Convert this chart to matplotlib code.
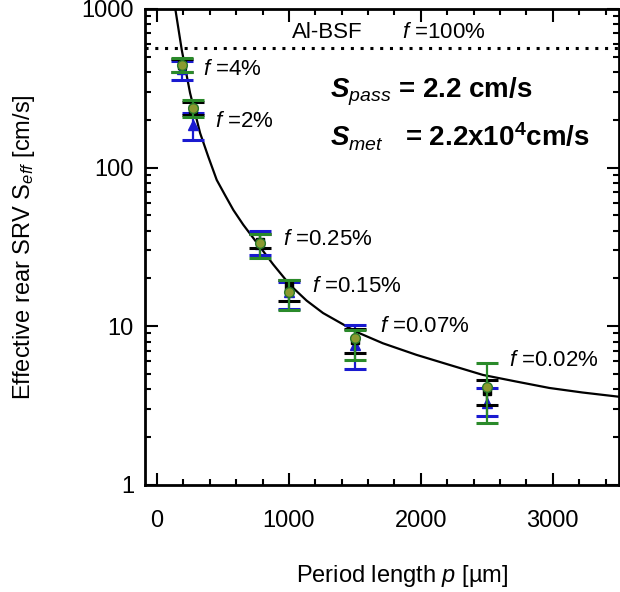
import numpy as np
import matplotlib
matplotlib.use('Agg')
import matplotlib.pyplot as plt
from matplotlib.ticker import MultipleLocator, LogLocator, FixedLocator, FixedFormatter, NullFormatter

plt.rcParams['font.family'] = ['Liberation Sans', 'DejaVu Sans']
plt.rcParams['mathtext.fontset'] = 'custom'
plt.rcParams['mathtext.rm'] = 'Liberation Sans'
plt.rcParams['mathtext.it'] = 'Liberation Sans:italic'
plt.rcParams['mathtext.bf'] = 'Liberation Sans:bold'
plt.rcParams['mathtext.bfit'] = 'Liberation Sans:italic:bold'

# measured points: period p [um], S_eff [cm/s] with lower/upper bounds
p = [190, 275, 780, 1000, 1500, 2500]
s_black = [440, 235, 34, 17.8, 8.2, 3.9]
lo_black = [400, 215, 31, 14.5, 6.8, 3.2]
hi_black = [480, 260, 38, 19.5, 9.6, 4.6]
s_blue = [420, 185, 33, 16.5, 7.6, 3.3]
lo_blue = [355, 150, 28, 12.8, 5.4, 2.7]
hi_blue = [470, 222, 40, 19.0, 10.2, 4.1]
s_green = [440, 236, 33.3, 16.5, 8.4, 4.16]
lo_green = [400, 208, 26.8, 12.7, 6.1, 2.47]
hi_green = [490, 268, 38, 19.6, 9.5, 5.85]
f_labels = ['4%', '2%', '0.25%', '0.15%', '0.07%', '0.02%']

# model curve
curve_p = [135, 188, 251, 327, 389, 453, 516, 579, 654, 781, 881, 1008, 1134, 1259,
           1512, 1713, 1966, 2218, 2470, 2722, 2974, 3225, 3504]
curve_s = [1050, 551, 295, 165, 117, 83.5, 67, 54, 43.6, 31.6, 24.5, 18.2, 14.5, 12.1,
           9.2, 7.8, 6.6, 5.7, 4.93, 4.48, 4.08, 3.82, 3.59]

s_albsf = 565

fig = plt.figure(figsize=(6.2, 5.92), dpi=100)
ax = fig.add_axes([0.234, 0.181, 0.764, 0.804])

ax.plot(curve_p, curve_s, color='black', lw=1.6, zorder=2)
ax.axhline(s_albsf, color='black', ls=(0, (1, 2.2)), lw=2.2, zorder=2)

def err(s, lo, hi):
    s = np.array(s); return [s - np.array(lo), np.array(hi) - s]

ax.errorbar(p, s_blue, yerr=err(s_blue, lo_blue, hi_blue), fmt='^', color='#1a1ad0',
            ms=7, capsize=8, capthick=2.2, elinewidth=1.6, zorder=3)
ax.errorbar(p, s_black, yerr=err(s_black, lo_black, hi_black), fmt='s', color='black',
            ms=6, capsize=8, capthick=2.2, elinewidth=1.6, zorder=4)
ax.errorbar(p, s_green, yerr=err(s_green, lo_green, hi_green), fmt='o', color='#2a8a2a',
            mfc='#8a9a30', mec='#2a7a2a', ms=7, capsize=8, capthick=2.2, elinewidth=1.6, zorder=5)

# f labels
lab_p = [349, 440, 953, 1175, 1690, 2670]
lab_s = [412, 194, 35, 17.7, 10, 6.1]
for xp, ys, lab in zip(lab_p, lab_s, f_labels):
    ax.text(xp, ys, r'$\mathit{f}$ =' + lab, fontsize=16, va='center', ha='left')

ax.text(1021, 705, 'Al-BSF', fontsize=16, va='center', ha='left')
ax.text(1855, 705, r'$\mathit{f}$ =100%', fontsize=16, va='center', ha='left')
ax.text(1310, 300, r'$\mathbfit{S}_{\mathit{pass}}$' + ' = 2.2 cm/s', fontsize=20,
        fontweight='bold', va='center', ha='left')
ax.text(1310, 156, r'$\mathbfit{S}_{\mathit{met}}$' + '   = 2.2x10$^{\mathbf{4}}$cm/s', fontsize=20,
        fontweight='bold', va='center', ha='left')

ax.set_yscale('log')
ax.set_ylim(1, 1000)
ax.set_xlim(-90, 3500)

ax.xaxis.set_major_locator(FixedLocator([0, 1000, 2000, 3000]))
ax.xaxis.set_minor_locator(MultipleLocator(200))
ax.yaxis.set_major_locator(FixedLocator([1, 10, 100, 1000]))
ax.yaxis.set_major_formatter(FixedFormatter(['1', '10', '100', '1000']))
ax.yaxis.set_minor_locator(LogLocator(base=10, subs=np.arange(2, 10)))
ax.yaxis.set_minor_formatter(NullFormatter())

ax.tick_params(which='both', direction='in', top=True, right=True, width=1.5, labelsize=17)
ax.tick_params(which='major', length=9)
ax.tick_params(which='minor', length=4)
ax.tick_params(axis='x', which='major', pad=18)
ax.tick_params(axis='y', which='major', pad=8)
for sp in ax.spines.values():
    sp.set_linewidth(2)

ax.set_xlabel(r'Period length $\mathit{p}$ [µm]', fontsize=17)
ax.set_ylabel(r'Effective rear SRV S$_{\mathit{eff}}$ [cm/s]', fontsize=17)
ax.xaxis.set_label_coords(0.542, -0.191)
ax.xaxis.label.set_va('center')
ax.yaxis.set_label_coords(-0.255, 0.5)
ax.yaxis.label.set_va('center')

fig.savefig('out.png', dpi=100)
